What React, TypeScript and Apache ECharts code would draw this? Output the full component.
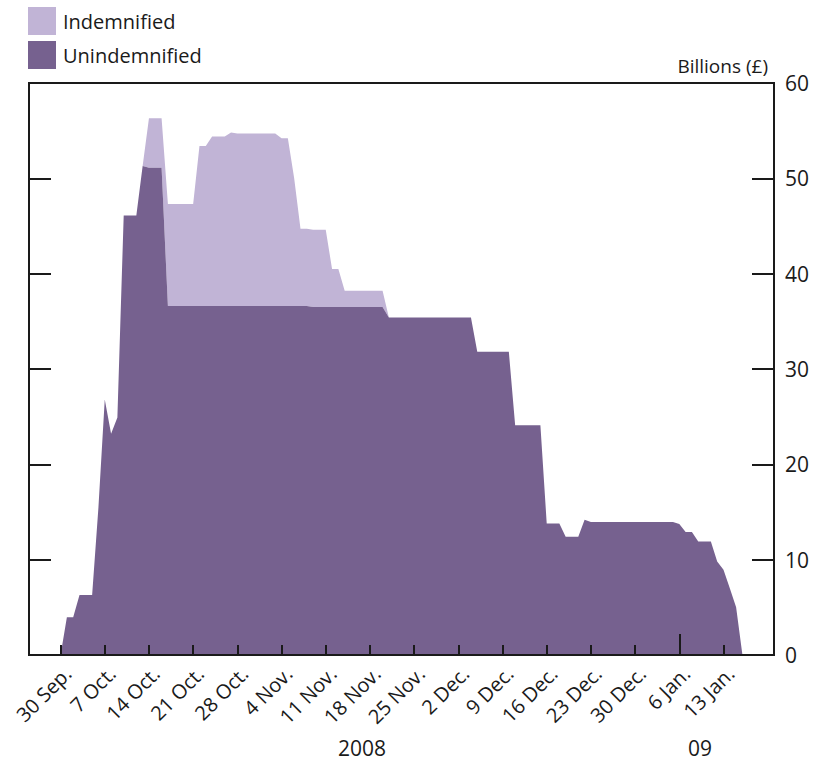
import React, { useEffect, useRef } from "react";
import * as echarts from "echarts";

// Daily axis from 25 Sep 2008 to 21 Jan 2009 (119 days)
const startDate = { y: 2008, m: 8, d: 25 };
const dayCount = 119;
const monthNames = ["Jan.", "Feb.", "Mar.", "Apr.", "May", "Jun.", "Jul.", "Aug.", "Sep.", "Oct.", "Nov.", "Dec."];
const categories: string[] = [];
for (let i = 0; i < dayCount; i++) {
  const dt = new Date(Date.UTC(startDate.y, startDate.m, startDate.d + i));
  categories.push(dt.getUTCDate() + " " + monthNames[dt.getUTCMonth()]);
}
// labelled weekly ticks: 30 Sep. ... 13 Jan.
const tickLabels = [
  "30 Sep.", "7 Oct.", "14 Oct.", "21 Oct.", "28 Oct.", "4 Nov.", "11 Nov.", "18 Nov.",
  "25 Nov.", "2 Dec.", "9 Dec.", "16 Dec.", "23 Dec.", "30 Dec.", "6 Jan.", "13 Jan.",
];
const yearBreak = "6 Jan.";
const yearLabels = ["2008", "09"];

const unindemnified: (number | string)[] = [
  "-", "-", "-", "-", "-",
  0, 3.95, 3.95, 6.3, 6.3, 6.3, 15.5, 26.8, 23.2, 24.9,
  46.1, 46.1, 46.1, 51.3, 51.1, 51.1, 51.1, 36.6, 36.6, 36.6,
  36.6, 36.6, 36.6, 36.6, 36.6, 36.6, 36.6, 36.6, 36.6, 36.6,
  36.6, 36.6, 36.6, 36.6, 36.6, 36.6, 36.6, 36.6, 36.6, 36.6,
  36.5, 36.5, 36.5, 36.5, 36.5, 36.5, 36.5, 36.5, 36.5, 36.5,
  36.5, 36.5, 35.4, 35.4, 35.4, 35.4, 35.4, 35.4, 35.4, 35.4,
  35.4, 35.4, 35.4, 35.4, 35.4, 35.4, 31.8, 31.8, 31.8, 31.8,
  31.8, 31.8, 24.1, 24.1, 24.1, 24.1, 24.1, 13.8, 13.8, 13.8,
  12.4, 12.4, 12.4, 14.2, 13.95, 13.95, 13.95, 13.95, 13.95, 13.95,
  13.95, 13.95, 13.95, 13.95, 13.95, 13.95, 13.95, 13.95, 13.75, 12.9,
  12.9, 11.9, 11.9, 11.9, 9.8, 8.95, 7.0, 5.0, 0,
  "-", "-", "-", "-", "-",
];

const indemnified: (number | string)[] = [
  "-", "-", "-", "-", "-",
  0, 0, 0, 0, 0, 0, 0, 0, 0, 0,
  0, 0, 0, 0, 5.2, 5.2, 5.2, 10.7, 10.7, 10.7,
  10.7, 10.7, 16.8, 16.8, 17.8, 17.8, 17.8, 18.2, 18.1, 18.1,
  18.1, 18.1, 18.1, 18.1, 18.1, 17.6, 17.6, 13.4, 8.1, 8.1,
  8.1, 8.1, 8.1, 4.0, 4.0, 1.7, 1.7, 1.7, 1.7, 1.7,
  1.7, 1.7, 0, 0, 0, 0, 0, 0, 0, 0,
  0, 0, 0, 0, 0, 0, 0, 0, 0, 0,
  0, 0, 0, 0, 0, 0, 0, 0, 0, 0,
  0, 0, 0, 0, 0, 0, 0, 0, 0, 0,
  0, 0, 0, 0, 0, 0, 0, 0, 0, 0,
  0, 0, 0, 0, 0, 0, 0, 0, 0,
  "-", "-", "-", "-", "-",
];

const yTicks = { min: 0, max: 60, interval: 10 };

const DARK = "#76618f";
const LIGHT = "#c1b4d6";
const INK = "#1a1a1a";
const FONT = "'Open Sans', 'Noto Sans', sans-serif";

export default function App() {
  const ref = useRef<HTMLDivElement>(null);
  useEffect(() => {
    if (!ref.current) return;
    const chart = echarts.init(ref.current, undefined, { renderer: "svg" });
    const isTick = (idx: number) => tickLabels.indexOf(categories[idx]) >= 0;
    const isBreak = (idx: number) => categories[idx] === yearBreak;
    chart.setOption({
      animation: false,
      textStyle: { fontFamily: FONT },
      legend: {
        orient: "vertical",
        left: 28,
        top: 7,
        padding: 0,
        itemWidth: 28,
        itemHeight: 28,
        itemGap: 6,
        icon: "rect",
        data: ["Indemnified", "Unindemnified"],
        textStyle: { fontSize: 20, color: INK, fontFamily: FONT, padding: [0, 0, 0, 2] },
      },
      grid: {
        left: 29,
        right: 43,
        top: 83,
        bottom: 112,
        show: true,
        borderColor: INK,
        borderWidth: 2,
        backgroundColor: "transparent",
      },
      xAxis: [
        {
          type: "category",
          data: categories,
          boundaryGap: false,
          z: 5,
          axisLine: { show: true, lineStyle: { color: INK, width: 2 } },
          axisTick: {
            show: true,
            inside: true,
            length: 10,
            interval: (idx: number) => isTick(idx),
            lineStyle: { color: INK, width: 2 },
          },
          axisLabel: {
            show: true,
            interval: (idx: number) => isTick(idx),
            rotate: 45,
            margin: 8,
            fontSize: 20,
            verticalAlign: "top",
            color: INK,
            fontFamily: FONT,
          },
          splitLine: { show: false },
        },
        {
          type: "category",
          data: categories,
          boundaryGap: false,
          position: "bottom",
          z: 5,
          axisLine: { show: false },
          axisTick: {
            show: true,
            inside: true,
            length: 21,
            interval: (idx: number) => isBreak(idx),
            lineStyle: { color: INK, width: 2 },
          },
          axisLabel: { show: false },
          splitLine: { show: false },
        },
      ],
      yAxis: [
        {
          type: "value",
          position: "right",
          min: yTicks.min,
          max: yTicks.max,
          interval: yTicks.interval,
          z: 5,
          axisLine: { show: true, lineStyle: { color: INK, width: 2 } },
          axisTick: { show: true, inside: true, length: 22, lineStyle: { color: INK, width: 2 } },
          axisLabel: { show: true, margin: 11, fontSize: 21, color: INK, fontFamily: FONT },
          splitLine: { show: false },
        },
        {
          type: "value",
          position: "left",
          min: yTicks.min,
          max: yTicks.max,
          interval: yTicks.interval,
          z: 5,
          axisLine: { show: false },
          axisTick: { show: true, inside: true, length: 22, lineStyle: { color: INK, width: 2 } },
          axisLabel: { show: false },
          splitLine: { show: false },
        },
      ],
      graphic: [
        {
          type: "text",
          x: 768,
          y: 66,
          style: { text: "Billions (£)", fontSize: 19, fill: INK, fontFamily: FONT, align: "right", verticalAlign: "middle" },
        },
        {
          type: "text",
          x: 362,
          y: 748,
          style: { text: yearLabels[0], fontSize: 21, fill: INK, fontFamily: FONT, align: "center", verticalAlign: "middle" },
        },
        {
          type: "text",
          x: 700,
          y: 748,
          style: { text: yearLabels[1], fontSize: 21, fill: INK, fontFamily: FONT, align: "center", verticalAlign: "middle" },
        },
      ],
      series: [
        {
          name: "Unindemnified",
          type: "line",
          stack: "total",
          data: unindemnified,
          showSymbol: false,
          symbol: "none",
          lineStyle: { width: 0 },
          itemStyle: { color: DARK },
          areaStyle: { color: DARK, opacity: 1 },
          z: 2,
        },
        {
          name: "Indemnified",
          type: "line",
          stack: "total",
          data: indemnified,
          showSymbol: false,
          symbol: "none",
          lineStyle: { width: 0 },
          itemStyle: { color: LIGHT },
          areaStyle: { color: LIGHT, opacity: 1 },
          z: 1,
        },
      ],
    });
    return () => chart.dispose();
  }, []);
  return (
    <div
      ref={ref}
      style={{ position: "fixed", left: 0, top: 0, width: 817, height: 767, background: "#fff" }}
    />
  );
}
